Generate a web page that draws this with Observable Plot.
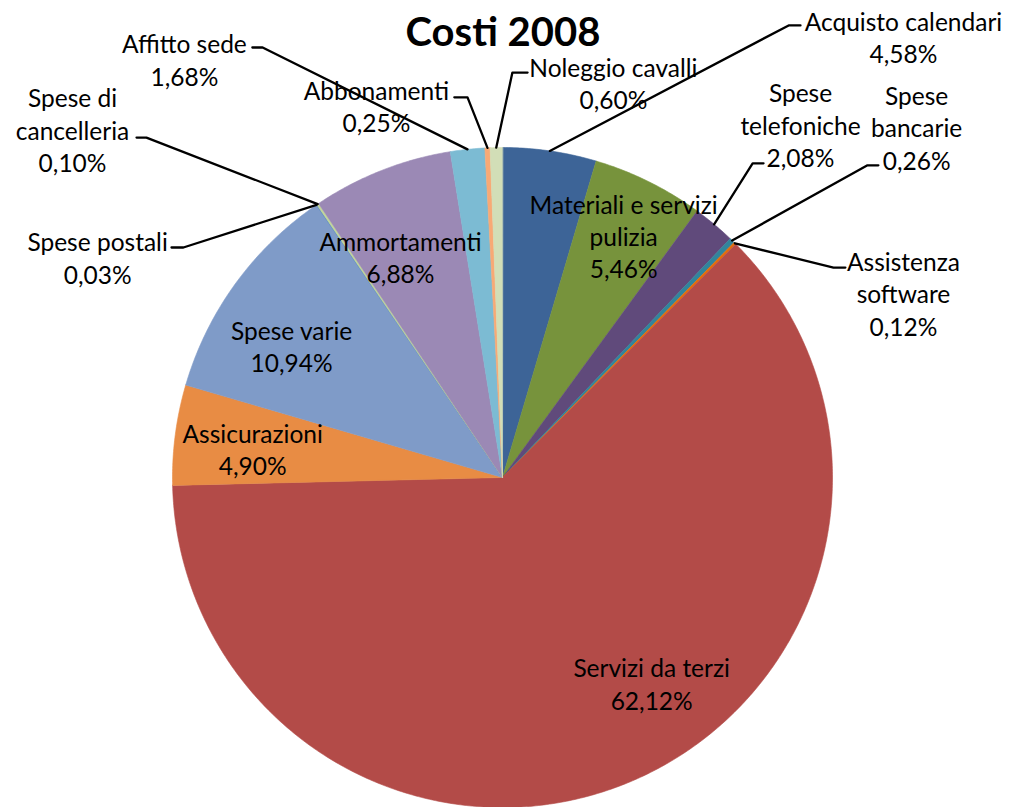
<!DOCTYPE html>
<html>
<head>
<meta charset="utf-8">
<script src="https://cdn.jsdelivr.net/npm/d3@7"></script>
<script src="https://cdn.jsdelivr.net/npm/@observablehq/plot@0.6"></script>
<style>
  html, body { margin: 0; padding: 0; background: #ffffff; }
</style>
</head>
<body>
<div id="chart"></div>
<script>
// ---------------- DATA ----------------
const title = "Costi 2008";
const categories = [
  "Acquisto calendari", "Materiali e servizi pulizia", "Spese telefoniche",
  "Spese bancarie", "Assistenza software", "Servizi da terzi", "Assicurazioni",
  "Spese varie", "Spese postali", "Spese di cancelleria", "Ammortamenti",
  "Affitto sede", "Abbonamenti", "Noleggio cavalli"
];
const values = [4.58, 5.46, 2.08, 0.26, 0.12, 62.12, 4.90, 10.94, 0.03, 0.10, 6.88, 1.68, 0.25, 0.60];
const labelNames = [
  "Acquisto calendari", "Materiali e servizi\npulizia", "Spese\ntelefoniche",
  "Spese\nbancarie", "Assistenza\nsoftware", "Servizi da terzi", "Assicurazioni",
  "Spese varie", "Spese postali", "Spese di\ncancelleria", "Ammortamenti",
  "Affitto sede", "Abbonamenti", "Noleggio cavalli"
];
const colors = [
  "#3D6497", "#77933C", "#604A7B", "#31859C", "#E46C0A", "#B34B48", "#E88C44",
  "#7F9BC8", "#4F81BD", "#C3D69B", "#9B89B5", "#7CBBD3", "#F8A975", "#D2DEB7"
];

// ---------------- LAYOUT (in pie radii, relative to pie centre) ----------------
const W = 1009, H = 807, R = 330, CX = 502, CY = 477;
// label block centre [x, y]
const labelPos = {
  "Acquisto calendari": [1.215, 1.336],
  "Materiali e servizi pulizia": [0.367, 0.733],
  "Spese telefoniche": [0.903, 1.070],
  "Spese bancarie": [1.255, 1.062],
  "Assistenza software": [1.215, 0.559],
  "Servizi da terzi": [0.452, -0.623],
  "Assicurazioni": [-0.757, 0.088],
  "Spese varie": [-0.639, 0.400],
  "Spese postali": [-1.227, 0.668],
  "Spese di cancelleria": [-1.303, 1.055],
  "Ammortamenti": [-0.309, 0.670],
  "Affitto sede": [-0.964, 1.268],
  "Abbonamenti": [-0.382, 1.126],
  "Noleggio cavalli": [0.336, 1.196]
};
// leader: [elbowX, endX, y]
const leaderPos = {
  "Acquisto calendari": [0.867, 0.903, 1.370],
  "Noleggio cavalli": [0.030, 0.076, 1.227],
  "Abbonamenti": [-0.106, -0.146, 1.152],
  "Affitto sede": [-0.727, -0.758, 1.303],
  "Spese di cancelleria": [-1.079, -1.109, 1.030],
  "Spese postali": [-0.967, -1.003, 0.697],
  "Spese telefoniche": [0.758, 0.791, 0.952],
  "Spese bancarie": [1.106, 1.139, 0.946],
  "Assistenza software": [1.003, 1.039, 0.636]
};

// ---------------- GEOMETRY ----------------
const total = d3.sum(values);
let acc = 0;
const slices = categories.map((name, i) => {
  const a0 = acc / total * 2 * Math.PI;
  acc += values[i];
  const a1 = acc / total * 2 * Math.PI;
  return {name, value: values[i], a0, a1, mid: (a0 + a1) / 2, i};
});

const polyPts = slices.flatMap(s => {
  const n = Math.max(2, Math.ceil((s.a1 - s.a0) / (Math.PI / 360)));
  const pts = [{name: s.name, x: 0, y: 0}];
  for (let k = 0; k <= n; k++) {
    const a = s.a0 + (s.a1 - s.a0) * k / n;
    pts.push({name: s.name, x: Math.sin(a), y: Math.cos(a)});
  }
  return pts;
});

const fmt = v => d3.format(".2f")(v).replace(".", ",") + "%";

const labels = slices.map(s => ({
  name: s.name,
  x: labelPos[s.name][0],
  y: labelPos[s.name][1],
  text: labelNames[s.i] + "\n" + fmt(s.value)
}));

const leaderPts = slices.filter(s => leaderPos[s.name]).flatMap(s => {
  const [ex, hx, ly] = leaderPos[s.name];
  return [
    {name: s.name, x: Math.sin(s.mid), y: Math.cos(s.mid)},
    {name: s.name, x: ex, y: ly},
    {name: s.name, x: hx, y: ly}
  ];
});

const chart = Plot.plot({
  width: W,
  height: H,
  margin: 0,
  x: {domain: [-CX / R, (W - CX) / R], axis: null},
  y: {domain: [-(H - CY) / R, CY / R], axis: null},
  color: {domain: categories, range: colors},
  style: {fontFamily: "Lato, sans-serif", background: "#ffffff", color: "#000000"},
  marks: [
    Plot.line(polyPts, {x: "x", y: "y", z: "name", fill: "name", stroke: "name", strokeWidth: 0.6, curve: "linear-closed"}),
    Plot.line(leaderPts, {x: "x", y: "y", z: "name", stroke: "#000000", strokeWidth: 2.3}),
    Plot.text(labels, {x: "x", y: "y", text: "text", fontSize: 24.5, lineHeight: 1.32, fill: "#000000"}),
    Plot.text([title], {frameAnchor: "top", lineAnchor: "middle", dx: -2, dy: 33, text: d => d, fontSize: 40, fontWeight: "bold", fill: "#000000"})
  ]
});
document.getElementById("chart").appendChild(chart);
</script>
</body>
</html>
